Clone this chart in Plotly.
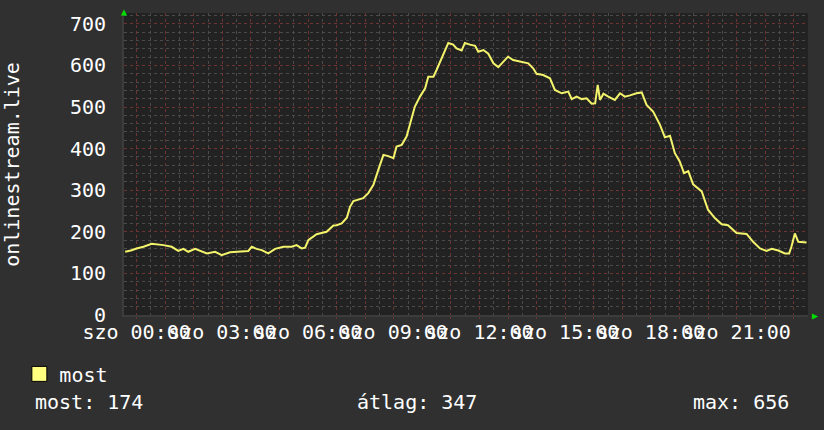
import numpy as np
import plotly.graph_objects as go

# óra (szombat 00:00-tól), látogatók száma
hours = [
    -0.40, -0.20, 0.00, 0.24, 0.53, 0.94, 1.23, 1.46, 1.64, 1.81, 2.05, 2.46,
    2.75, 2.98, 3.27, 3.60, 3.91, 4.03, 4.20, 4.38, 4.61, 4.85, 5.14, 5.43,
    5.60, 5.78, 5.90, 6.01, 6.30, 6.65, 6.89, 7.00, 7.18, 7.36, 7.47, 7.59,
    7.76, 7.93, 8.11, 8.29, 8.46, 8.64, 8.81, 8.99, 9.10, 9.28, 9.45, 9.63,
    9.74, 9.92, 10.10, 10.21, 10.39, 10.50, 10.62, 10.79, 10.91, 11.08, 11.20, 11.38,
    11.49, 11.67, 11.85, 11.96, 12.14, 12.31, 12.49, 12.66, 12.84, 13.00, 13.18, 13.42,
    13.71, 13.88, 14.00, 14.23, 14.47, 14.64, 14.88, 15.11, 15.23, 15.40, 15.58, 15.75,
    15.93, 16.05, 16.14, 16.22, 16.34, 16.51, 16.74, 16.92, 17.09, 17.27, 17.50, 17.68,
    17.85, 18.08, 18.32, 18.49, 18.67, 18.84, 19.01, 19.16, 19.31, 19.48, 19.78, 20.00,
    20.24, 20.48, 20.70, 21.00, 21.18, 21.35, 21.58, 21.82, 22.05, 22.23, 22.46, 22.69,
    22.84, 22.92, 23.04, 23.16, 23.45,
]
most = [
    152, 155, 160, 164, 171, 168, 164, 154, 159, 152, 159, 148,
    152, 144, 151, 152, 154, 164, 159, 156, 148, 159, 164, 164,
    168, 160, 162, 180, 194, 200, 215, 216, 220, 234, 260, 274,
    277, 281, 293, 313, 349, 385, 382, 377, 405, 409, 429, 473,
    501, 525, 545, 573, 573, 589, 609, 633, 654, 650, 641, 636,
    654, 650, 647, 633, 637, 628, 605, 596, 609, 621, 613, 609,
    605, 593, 580, 577, 569, 541, 533, 537, 519, 525, 519, 521,
    508, 509, 553, 517, 532, 525, 517, 533, 525, 528, 533, 535,
    505, 489, 457, 427, 431, 389, 369, 341, 346, 314, 297, 253,
    233, 218, 216, 197, 196, 195, 176, 160, 154, 159, 155, 148,
    148, 164, 196, 176, 174,
]

tick_hours = list(range(0, 24))
tick_labels = [f"szo {h:02d}:00" if h % 3 == 0 else "" for h in tick_hours]

stat_now = 174
stat_avg = 347
stat_max = 656

FONT = "DejaVu Sans Mono"
RED_GRID = "#6e3434"
GRAY_GRID = "#4a4a4a"

fig = go.Figure()

fig.add_trace(go.Scatter(
    x=hours, y=most,
    mode="lines",
    line=dict(color="#f4f46c", width=2),
    showlegend=False,
))

# jelmagyarázat négyzet
fig.add_trace(go.Scatter(
    x=[None], y=[None],
    mode="markers",
    name="most",
    marker=dict(symbol="square", size=15, color="#ffff80",
                line=dict(color="#000000", width=1)),
))

fig.update_xaxes(
    range=[-0.44, 23.5],
    tickmode="array", tickvals=tick_hours, ticktext=tick_labels,
    tickangle=0, automargin=False, ticklabelstandoff=-4,
    showgrid=True, gridcolor=RED_GRID, griddash="dot", gridwidth=1,
    minor=dict(tickvals=list(np.arange(-0.5, 24, 0.5)), showgrid=True,
               gridcolor=GRAY_GRID, griddash="dot", gridwidth=1),
    ticks="outside", ticklen=2, tickcolor=RED_GRID,
    zeroline=False,
    showline=True, linecolor="#3c3c3c", linewidth=2,
    tickfont=dict(family=FONT, size=20, color="#ffffff"),
)
fig.update_yaxes(
    range=[0, 726],
    tickmode="array", tickvals=list(range(0, 800, 100)),
    automargin=False, ticklabelstandoff=12,
    showgrid=True, gridcolor=RED_GRID, griddash="dot", gridwidth=1,
    minor=dict(tickvals=list(range(0, 740, 20)), showgrid=True,
               gridcolor=GRAY_GRID, griddash="dot", gridwidth=1),
    zeroline=False,
    showline=True, linecolor="#3c3c3c", linewidth=2,
    tickfont=dict(family=FONT, size=20, color="#ffffff"),
)

text_font = dict(family=FONT, size=20, color="#ffffff")

# függőleges tengelycím
fig.add_annotation(x=-0.164, y=0.5, xref="paper", yref="paper",
                   text="onlinestream.live", textangle=-90, showarrow=False,
                   xanchor="center", yanchor="middle", font=text_font)

# zöld nyilak a tengelyek végén
fig.add_annotation(x=0, y=1, xref="paper", yref="paper", text="▲",
                   showarrow=False, yshift=2, xanchor="center", yanchor="middle",
                   font=dict(size=10, color="#00dd00"))
fig.add_annotation(x=1, y=0, xref="paper", yref="paper", text="▶",
                   showarrow=False, xshift=7, xanchor="center", yanchor="middle",
                   font=dict(size=10, color="#00dd00"))

fig.add_annotation(x=-0.133, y=-0.288, xref="paper", yref="paper",
                   text=f"most: {stat_now}", showarrow=False,
                   xanchor="left", yanchor="middle", font=text_font)
fig.add_annotation(x=0.338, y=-0.288, xref="paper", yref="paper",
                   text=f"átlag: {stat_avg}", showarrow=False,
                   xanchor="left", yanchor="middle", font=text_font)
fig.add_annotation(x=0.975, y=-0.288, xref="paper", yref="paper",
                   text=f"max: {stat_max}", showarrow=False,
                   xanchor="right", yanchor="middle", font=text_font)

fig.update_layout(
    width=824, height=430,
    margin=dict(l=124, r=16, t=13, b=115),
    paper_bgcolor="#303030",
    plot_bgcolor="#222222",
    font=text_font,
    legend=dict(x=-0.153, y=-0.195, xanchor="left", yanchor="middle",
                bgcolor="rgba(0,0,0,0)", font=text_font),
)

fig.write_html("out.html", config={"displayModeBar": False},
               post_script="document.body.style.margin = '0';")
